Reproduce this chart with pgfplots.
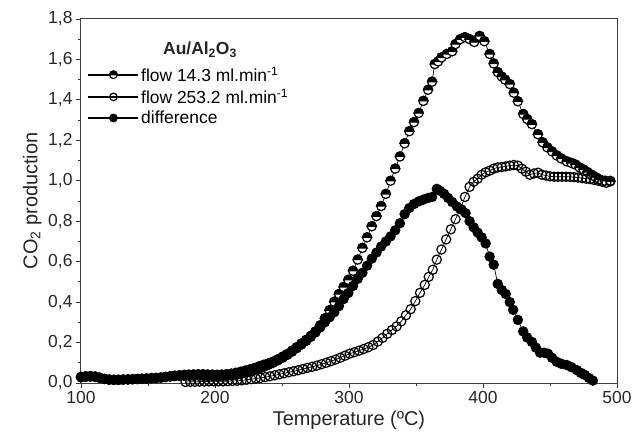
\documentclass[border=0pt]{standalone}
\usepackage{pgfplots}
\pgfplotsset{compat=1.18}
\usepackage{fontspec}
\setmainfont{Liberation Sans}
\usetikzlibrary{plotmarks}

\pgfdeclareplotmark{halfblack}{%
  \pgfpathcircle{\pgfpointorigin}{\pgfplotmarksize}%
  \pgfsetfillcolor{white}\pgfusepathqfillstroke
  \pgfpathmoveto{\pgfpoint{\pgfplotmarksize}{0pt}}%
  \pgfpatharc{0}{180}{\pgfplotmarksize}%
  \pgfpathclose
  \pgfsetfillcolor{black}\pgfusepathqfillstroke
}

\pgfplotstableread{
x y
100 0.030
103.5 0.033
107 0.034
110.5 0.032
114 0.026
117.5 0.020
121 0.017
124.5 0.016
128 0.016
131.5 0.017
135 0.018
138.5 0.019
142 0.020
145.5 0.021
149 0.022
152.5 0.024
156 0.025
159.5 0.027
163 0.030
166.5 0.033
170 0.036
173.5 0.038
177 0.040
180.5 0.041
184 0.042
187.5 0.043
191 0.043
194.5 0.042
198 0.041
201.5 0.040
205 0.041
208.5 0.043
212 0.046
215.5 0.050
219 0.055
222.5 0.061
226 0.067
229.5 0.074
233 0.082
236.5 0.090
240 0.097
243.5 0.106
247 0.117
250.5 0.130
254 0.143
257.5 0.160
261 0.177
264.5 0.195
268 0.213
271.5 0.233
275 0.255
278.5 0.285
282 0.320
285.5 0.360
289 0.402
292.5 0.440
296 0.475
299.5 0.510
303 0.555
306.5 0.610
310 0.668
313.5 0.720
317 0.775
320.5 0.825
324 0.875
327.5 0.935
331 1.000
334.5 1.060
338 1.120
341.5 1.185
345 1.245
348.5 1.290
352 1.335
355.5 1.395
359 1.450
362 1.490
364 1.577
366.5 1.590
369 1.610
373 1.627
377 1.640
379.5 1.676
383 1.700
386.5 1.710
390 1.700
393.5 1.686
397.5 1.716
401 1.690
405 1.627
408 1.580
411 1.537
414 1.515
416.5 1.500
420 1.478
423 1.435
426 1.393
430 1.330
433 1.305
436.5 1.280
441 1.230
444.5 1.190
448 1.165
451.5 1.145
455 1.125
458.5 1.110
462.5 1.096
466 1.088
469 1.080
472 1.066
475 1.056
478 1.043
481 1.030
484 1.018
487 1.007
491 1.000
495 0.997
}\flowlow

\pgfplotstableread{
x y
178 0.005
181.5 0.006
185 0.006
188.5 0.007
192 0.007
195.5 0.008
199 0.008
202.5 0.008
206 0.008
209.5 0.009
213 0.010
216.5 0.011
220 0.013
223.5 0.016
227 0.019
230.5 0.022
234 0.025
237.5 0.029
241 0.033
244.5 0.038
248 0.043
251.5 0.048
255 0.053
258.5 0.058
262 0.063
265.5 0.069
269 0.075
272.5 0.080
276 0.086
279.5 0.093
283 0.100
286.5 0.108
290 0.116
293.5 0.125
297 0.135
300.5 0.145
304 0.152
307.5 0.160
311 0.168
314.5 0.177
318 0.188
321.5 0.205
325 0.223
328.5 0.243
332 0.262
335.5 0.280
339 0.305
342.5 0.335
346 0.365
349.5 0.405
353 0.446
356.5 0.485
359.5 0.525
362.5 0.560
365.5 0.610
369 0.660
372.5 0.710
376 0.760
379.5 0.810
383 0.860
386.5 0.920
390 0.970
393 0.995
396 1.010
399 1.030
402 1.042
405 1.050
408 1.060
411 1.066
414 1.068
417 1.071
420 1.075
423 1.078
426 1.075
429 1.060
432 1.045
435 1.030
438 1.036
441 1.040
444 1.030
447 1.026
450 1.022
453 1.020
456 1.020
459 1.020
462 1.020
465 1.019
468 1.018
471 1.016
474 1.013
477 1.010
480 1.008
483 1.004
486 1.000
489 0.995
492 0.990
495 1.000
}\flowhigh

\pgfplotstableread{
x y
100 0.028
103.5 0.030
107 0.031
110.5 0.030
114 0.025
117.5 0.020
121 0.016
124.5 0.015
128 0.015
131.5 0.016
135 0.017
138.5 0.018
142 0.019
145.5 0.020
149 0.021
152.5 0.023
156 0.024
159.5 0.026
163 0.029
166.5 0.032
170 0.034
173.5 0.035
177 0.036
180.5 0.036
184 0.036
187.5 0.037
191 0.036
194.5 0.035
198 0.034
201.5 0.033
205 0.034
208.5 0.035
212 0.037
215.5 0.040
219 0.044
222.5 0.050
226 0.056
229.5 0.063
233 0.071
236.5 0.080
240 0.090
243.5 0.100
247 0.112
250.5 0.125
254 0.139
257.5 0.155
261 0.172
264.5 0.190
268 0.208
271.5 0.228
275 0.250
278.5 0.275
282 0.300
285.5 0.325
289 0.350
292.5 0.380
296 0.415
299.5 0.445
303 0.480
306.5 0.515
310 0.545
313.5 0.580
317 0.615
320.5 0.645
324 0.675
327.5 0.700
331 0.725
334.5 0.755
338 0.790
341.5 0.835
345 0.865
348.5 0.885
352 0.898
355.5 0.907
359 0.915
362 0.920
365.5 0.960
368 0.950
371 0.935
374 0.915
377 0.895
380.5 0.873
384 0.858
387 0.840
390 0.800
393 0.770
396 0.744
399 0.720
402 0.690
405 0.625
408 0.585
411 0.490
414 0.460
417 0.440
420 0.400
422.5 0.362
426 0.312
430 0.255
433 0.225
436.5 0.203
439.5 0.175
442.5 0.150
445.5 0.150
448.5 0.145
451.5 0.125
455 0.105
458.5 0.095
462.5 0.089
466 0.078
470 0.064
473 0.050
476 0.040
479 0.025
482 0.012
}\diff

\begin{document}
\begin{tikzpicture}
\begin{axis}[
  scale only axis,
  width=536bp, height=364bp,
  xmin=100, xmax=500, ymin=0, ymax=1.8,
  xtick={100,200,300,400,500},
  ytick={0,0.2,0.4,0.6,0.8,1.0,1.2,1.4,1.6,1.8},
  minor x tick num=1, minor y tick num=1,
  xtick pos=bottom, ytick pos=left,
  tick align=outside,
  major tick length=5bp, minor tick length=3bp,
  every tick/.style={black!80, line width=0.8bp},
  axis line style={black!75, line width=1bp},
  /pgf/number format/assume math mode=true,
  y tick label style={/pgf/number format/.cd, fixed, fixed zerofill, precision=1, use comma},
  x tick label style={/pgf/number format/.cd, fixed, precision=0},
  tick label style={font=\fontsize{17.5}{18}\selectfont, black!85},
  xlabel={Temperature (ºC)},
  ylabel={CO\textsubscript{2} production},
  label style={font=\fontsize{20}{22}\selectfont, black!85},
  legend style={at={(rel axis cs:0.012,0.875)}, anchor=north west, draw=none, fill=none,
    font=\fontsize{17.5}{19}\selectfont, row sep=2bp, inner sep=0pt},
  legend cell align=left,
  legend image code/.code={\draw[mark repeat=2,mark phase=2,#1,line width=1.6bp,mark size=3.8bp] plot coordinates {(0bp,0bp) (25bp,0bp) (50bp,0bp)};},
  every axis plot/.append style={line width=0.7bp, black},
]
\addplot[black, mark=halfblack, mark size=4.6bp, mark options={solid, line width=1.2bp, draw=black}] table[x=x,y=y] {\flowlow};
\addlegendentry{flow 14.3 ml.min\textsuperscript{-1}}
\addplot[black, mark=o, mark size=4.6bp, mark options={solid, line width=1.2bp, draw=black, fill=white}] table[x=x,y=y] {\flowhigh};
\addlegendentry{flow 253.2 ml.min\textsuperscript{-1}}
\addplot[black, mark=*, mark size=4.6bp, mark options={solid, line width=1.2bp, draw=black, fill=black}] table[x=x,y=y] {\diff};
\addlegendentry{difference}
\node[font=\bfseries\fontsize{17.5}{19}\selectfont, black!85] at (rel axis cs:0.222,0.915) {Au/Al\textsubscript{2}O\textsubscript{3}};
\coordinate (sw) at (rel axis cs:0,0);
\coordinate (ne) at (rel axis cs:1,1);
\end{axis}
\pgfresetboundingbox
\path ([shift={(-81bp,-58bp)}]sw) rectangle ([shift={(15bp,19bp)}]ne);
\end{tikzpicture}
\end{document}
